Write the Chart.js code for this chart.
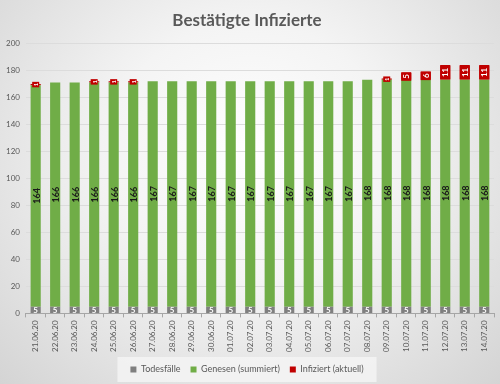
<!DOCTYPE html>
<html>
<head>
<meta charset="utf-8">
<script src="https://cdn.jsdelivr.net/npm/chart.js@4/dist/chart.umd.min.js"></script>
<style>
  html, body { margin: 0; padding: 0; }
  body {
    width: 500px; height: 384px; overflow: hidden;
    background: radial-gradient(ellipse at 50% 40%, #ffffff 0%, #f4f4f4 40%, #d4d4d4 100%);
  }
  canvas { display: block; }
</style>
</head>
<body>
<canvas id="chart" width="500" height="384"></canvas>
<script>
const tage = ["21.06.20","22.06.20","23.06.20","24.06.20","25.06.20","26.06.20","27.06.20","28.06.20",
  "29.06.20","30.06.20","01.07.20","02.07.20","03.07.20","04.07.20","05.07.20","06.07.20","07.07.20",
  "08.07.20","09.07.20","10.07.20","11.07.20","12.07.20","13.07.20","14.07.20"];
const todesfaelle = [5,5,5,5,5,5,5,5,5,5,5,5,5,5,5,5,5,5,5,5,5,5,5,5];
const genesen = [164,166,166,166,166,166,167,167,167,167,167,167,167,167,167,167,167,168,168,168,168,168,168,168];
const infiziert = [1,0,0,1,1,1,0,0,0,0,0,0,0,0,0,0,0,0,1,5,6,11,11,11];
const yTicks = [0,20,40,60,80,100,120,140,160,180,200];

const schrift = "Lato, 'Open Sans', sans-serif";

// Werte-Beschriftungen wie in Excel
const labelPlugin = {
  id: "wertLabels",
  beforeDraw(chart) {
    // heller Kasten hinter der Legende
    const lg = chart.legend;
    if (!lg) return;
    const ctx = chart.ctx;
    ctx.save();
    ctx.fillStyle = "rgba(245,245,245,0.8)";
    ctx.fillRect(lg.left + (lg.width - lg.lineWidths[0]) / 2 - 8, lg.top + 2, lg.lineWidths[0] + 16, lg.height - 4);
    ctx.restore();
  },
  afterDatasetsDraw(chart) {
    const ctx = chart.ctx;
    chart.data.datasets.forEach((ds, i) => {
      const meta = chart.getDatasetMeta(i);
      meta.data.forEach((bar, j) => {
        const v = ds.data[j];
        if (!v) return;
        const mitte = (bar.y + bar.base) / 2;
        ctx.save();
        ctx.textAlign = "center";
        ctx.textBaseline = "middle";
        if (i === 0) {
          ctx.font = "bold 8px " + schrift;
          ctx.fillStyle = "#ffffff";
          ctx.fillText(String(v), bar.x, mitte + 0.5);
        } else if (i === 1) {
          ctx.translate(bar.x, mitte);
          ctx.rotate(-Math.PI / 2);
          ctx.font = "bold 9px " + schrift;
          ctx.fillStyle = "#1a1a1a";
          ctx.fillText(String(v), 0, 1);
        } else {
          ctx.translate(bar.x, mitte);
          ctx.rotate(-Math.PI / 2);
          const klein = v < 2;
          ctx.font = "bold " + (klein ? 6 : 8) + "px " + schrift;
          const w = ctx.measureText(String(v)).width + (klein ? 2 : 4);
          const h = klein ? 7 : 10;
          ctx.fillStyle = "#c00000";
          ctx.fillRect(-w / 2, -h / 2, w, h);
          ctx.fillStyle = "#ffffff";
          ctx.fillText(String(v), 0, 0.5);
        }
        ctx.restore();
      });
    });
  }
};

new Chart(document.getElementById("chart"), {
  type: "bar",
  data: {
    labels: tage,
    datasets: [
      { label: "Todesfälle", data: todesfaelle, backgroundColor: "#7f7f7f" },
      { label: "Genesen (summiert)", data: genesen, backgroundColor: "#70ad47" },
      { label: "Infiziert (aktuell)", data: infiziert, backgroundColor: "#c00000" }
    ]
  },
  options: {
    responsive: false,
    animation: false,
    devicePixelRatio: 1,
    layout: { padding: { left: 0, right: 6, top: 2, bottom: 0 } },
    datasets: { bar: { barPercentage: 0.52, categoryPercentage: 1.0 } },
    plugins: {
      title: {
        display: true,
        text: "Bestätigte Infizierte",
        color: "#595959",
        font: { family: schrift, size: 17, weight: "bold" },
        padding: { top: 8, bottom: 13 }
      },
      legend: {
        position: "bottom",
        labels: {
          color: "#595959",
          font: { family: schrift, size: 9 },
          boxWidth: 6, boxHeight: 6,
          padding: 10
        }
      },
      tooltip: { enabled: false }
    },
    scales: {
      x: {
        stacked: true,
        border: { display: true, color: "#a6a6a6" },
        grid: { display: true, drawOnChartArea: false, color: "#a6a6a6", tickLength: 4, offset: true },
        ticks: {
          color: "#595959",
          font: { family: schrift, size: 8 },
          minRotation: 90, maxRotation: 90,
          autoSkip: false
        }
      },
      y: {
        stacked: true,
        min: 0, max: 200,
        afterBuildTicks(axis) { axis.ticks = yTicks.map(v => ({ value: v })); },
        border: { display: false },
        grid: { color: "#dcdcdc", drawTicks: false },
        ticks: {
          color: "#595959",
          font: { family: schrift, size: 8 },
          padding: 6
        }
      }
    }
  },
  plugins: [labelPlugin]
});
</script>
</body>
</html>
